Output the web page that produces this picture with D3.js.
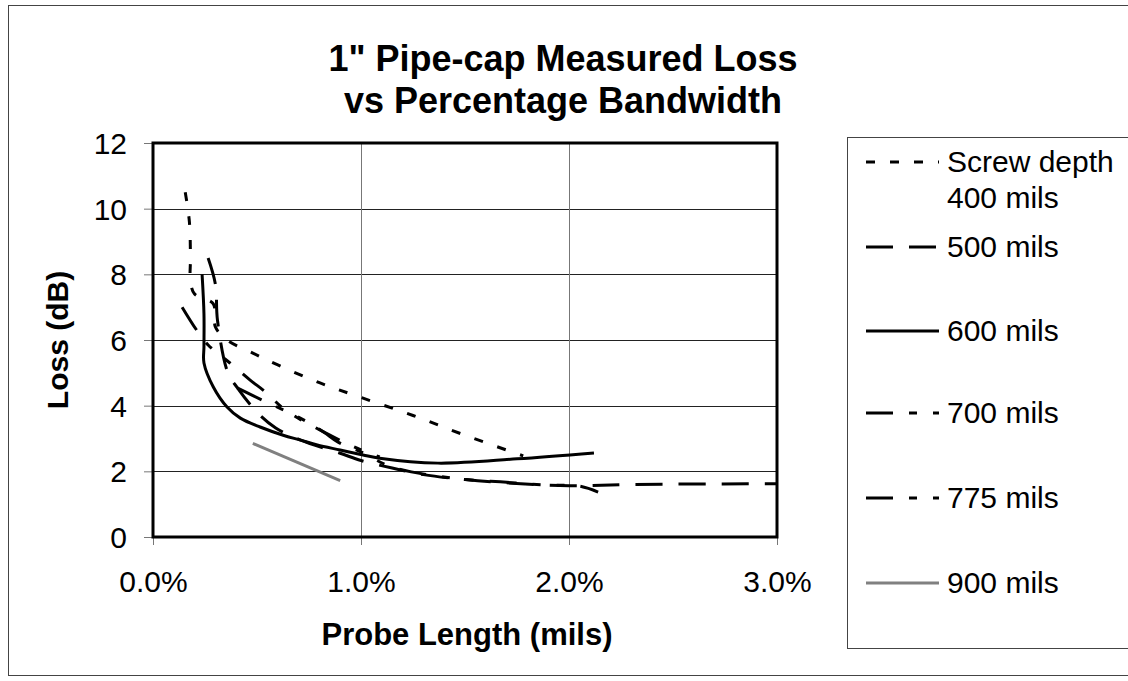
<!DOCTYPE html>
<html><head><meta charset="utf-8">
<script src="https://cdn.jsdelivr.net/npm/d3@7"></script>
<style>
body{margin:0;background:#fff}
svg{display:block}
text{font-family:"Liberation Sans",Arial,sans-serif;fill:#000}
</style>
</head><body>
<svg id="c" width="1128" height="681"></svg>
<script>
// ---- data ----
const titleLines = ["1\" Pipe-cap Measured Loss", "vs Percentage Bandwidth"];
const xLabel = "Probe Length (mils)";
const yLabel = "Loss (dB)";
const xTicks = [0, 1, 2, 3];            // percent
const yTicks = [0, 2, 4, 6, 8, 10, 12]; // dB
const seriesNames = ["Screw depth\n400 mils", "500 mils", "600 mils", "700 mils", "775 mils", "900 mils"];
const s400 = [[0.155,10.5],[0.175,9.6],[0.18,8.5],[0.18,7.8],[0.2,7.4],[0.29,7.1],[0.3,6.4],[0.356,6.0],[0.48,5.6],[0.6,5.24],[0.8,4.7],[1.0,4.25],[1.25,3.7],[1.5,3.1],[1.78,2.47]];
const s500 = [[0.265,8.5],[0.30,7.7],[0.31,6.6],[0.36,5.0],[0.405,4.55],[0.5,3.8],[0.59,3.32],[0.71,2.95],[0.9,2.55],[1.0,2.33],[1.15,2.1],[1.3,1.9],[1.5,1.75],[1.7,1.65],[2.0,1.56],[2.3,1.6],[3.0,1.62]];
const s600 = [[0.236,8.0],[0.245,6.8],[0.245,5.8],[0.245,5.3],[0.29,4.57],[0.356,3.96],[0.42,3.62],[0.515,3.35],[0.626,3.1],[0.71,2.95],[0.79,2.8],[0.9,2.65],[1.01,2.5],[1.09,2.4],[1.37,2.25],[1.75,2.38],[2.12,2.56]];
const s700 = [[0.14,7.0],[0.21,6.3],[0.265,5.85],[0.37,5.3],[0.467,4.78],[0.54,4.42],[0.636,3.87],[0.82,3.2],[1.0,2.65],[1.09,2.44]];
const s775 = [[0.405,4.54],[0.525,4.17],[0.708,3.62],[0.82,3.2],[0.89,2.89],[1.0,2.59],[1.15,2.13],[1.43,1.80],[1.67,1.68],[1.9,1.58],[2.05,1.55],[2.14,1.37]];
const s900 = [[0.48,2.85],[0.9,1.72]];
const seriesData = [s400, s500, s600, s700, s775, s900];

// ---- styles ----
const styles = [
  {color:"#000", dash:"9,15"},
  {color:"#000", dash:"27,16"},
  {color:"#000", dash:null},
  {color:"#000", dash:"27,16,8,16,8,16"},
  {color:"#000", dash:"27,16,8,16,8,16"},
  {color:"#808080", dash:null}
];

const svg = d3.select("#c");
const x = d3.scaleLinear().domain([0, 3]).range([153, 777]);
const y = d3.scaleLinear().domain([0, 12]).range([537, 143]);

// outer border
svg.append("rect").attr("x", 8.5).attr("y", 5.5).attr("width", 1140).attr("height", 670)
  .attr("fill", "#fff").attr("stroke", "#444").attr("stroke-width", 1);

// title
svg.append("text").attr("x", 563).attr("y", 71).attr("text-anchor", "middle")
  .style("font-weight", "bold").style("font-size", "36px")
  .selectAll("tspan").data(titleLines).join("tspan")
  .attr("x", 563).attr("dy", (d, i) => i ? 42 : 0).text(d => d);

// gridlines
svg.append("g").selectAll("line").data(yTicks.filter(d => d > 0 && d < 12)).join("line")
  .attr("x1", x(0)).attr("x2", x(3)).attr("y1", d => Math.round(y(d)) + 0.5).attr("y2", d => Math.round(y(d)) + 0.5)
  .attr("stroke", "#222").attr("stroke-width", 1);
svg.append("g").selectAll("line").data(xTicks.filter(d => d > 0 && d < 3)).join("line")
  .attr("y1", y(0)).attr("y2", y(12)).attr("x1", d => Math.round(x(d)) + 0.5).attr("x2", d => Math.round(x(d)) + 0.5)
  .attr("stroke", "#777").attr("stroke-width", 1);

// axes
const yAxis = d3.axisLeft(y).tickValues(yTicks).tickSize(9).tickPadding(17).tickFormat(d3.format("d"));
const gy = svg.append("g").attr("transform", `translate(${x(0)},0)`).call(yAxis);
gy.select(".domain").remove();
gy.selectAll("line").attr("stroke", "#777");
gy.selectAll("text").style("font-size", "30px").attr("dy", "0.35em");

const xAxis = d3.axisBottom(x).tickValues(xTicks).tickSize(8).tickPadding(26).tickFormat(d => d.toFixed(1) + "%");
const gx = svg.append("g").attr("transform", `translate(0,${y(0)})`).call(xAxis);
gx.select(".domain").remove();
gx.selectAll("line").attr("stroke", "#777");
gx.selectAll("text").style("font-size", "30px");

// plot frame
svg.append("rect").attr("x", x(0)).attr("y", y(12)).attr("width", x(3) - x(0)).attr("height", y(0) - y(12))
  .attr("fill", "none").attr("stroke", "#000").attr("stroke-width", 3);

// series
const line = d3.line().x(d => x(d[0])).y(d => y(d[1])).curve(d3.curveCatmullRom.alpha(0.5));
svg.append("g").selectAll("path").data(seriesData).join("path")
  .attr("d", d => line(d))
  .attr("fill", "none")
  .attr("stroke", (d, i) => styles[i].color)
  .attr("stroke-width", 3)
  .attr("stroke-dasharray", (d, i) => styles[i].dash)
  .attr("stroke-linejoin", "round");

// axis titles
svg.append("text").attr("x", 467).attr("y", 645).attr("text-anchor", "middle")
  .style("font-weight", "bold").style("font-size", "31px").text(xLabel);
svg.append("text").attr("transform", "translate(68,340) rotate(-90)").attr("text-anchor", "middle")
  .style("font-weight", "bold").style("font-size", "30px").text(yLabel);

// legend
svg.append("rect").attr("x", 847.5).attr("y", 137.5).attr("width", 400).attr("height", 511)
  .attr("fill", "#fff").attr("stroke", "#444").attr("stroke-width", 1);
const legY = [162, 247, 331, 413, 498, 583];
const lg = svg.append("g").selectAll("g").data(seriesNames).join("g")
  .attr("transform", (d, i) => `translate(0,${legY[i]})`);
lg.append("line").attr("x1", 866).attr("x2", 939).attr("y1", 0).attr("y2", 0)
  .attr("stroke", (d, i) => styles[i].color).attr("stroke-width", 3)
  .attr("stroke-dasharray", (d, i) => styles[i].dash);
lg.append("text").attr("x", 947).attr("y", 10).style("font-size", "30px")
  .selectAll("tspan").data(d => d.split("\n")).join("tspan")
  .attr("x", 947).attr("dy", (d, i) => i ? 36 : 0).text(d => d);
</script>
</body></html>
